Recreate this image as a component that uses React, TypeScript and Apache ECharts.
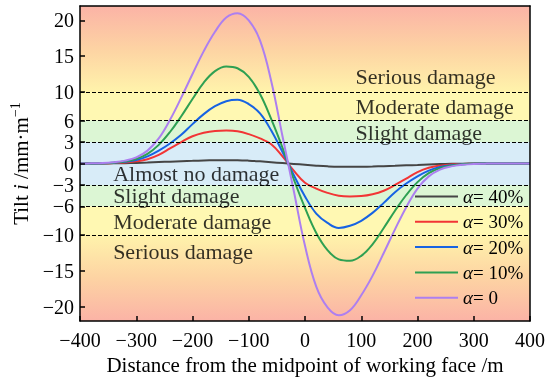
import React, { useEffect, useRef } from 'react';
import * as echarts from 'echarts';

// distance from the midpoint of the working face (m)
const xs = [-400, -380, -360, -340, -320, -300, -280, -260, -240, -220, -200, -180, -160, -140, -120, -100, -80, -60, -40, -20,
  0, 20, 40, 60, 80, 100, 120, 140, 160, 180, 200, 220, 240, 260, 280, 300, 320, 340, 360, 380, 400];

// tilt (mm/m) for each alpha
const tilt40 = [0, 0, 0.01, 0.02, 0.04, 0.08, 0.13, 0.2, 0.26, 0.32, 0.37, 0.42, 0.45, 0.47, 0.46, 0.4, 0.3, 0.18, 0.06,
  -0.06, -0.18, -0.3, -0.4, -0.46, -0.47, -0.45, -0.42, -0.37, -0.32, -0.26, -0.2, -0.13, -0.08, -0.04, -0.02, -0.01, 0, 0, 0, 0, 0];
const tilt30 = [0, 0.01, 0.02, 0.06, 0.15, 0.3, 0.6, 1.2, 2.1, 3.0, 3.8, 4.3, 4.55, 4.6, 4.5, 4.1, 3.5, 2.7, 1.0,
  -1.0, -2.7, -3.5, -4.1, -4.5, -4.6, -4.55, -4.3, -3.8, -3.0, -2.1, -1.2, -0.6, -0.3, -0.15, -0.06, -0.02, -0.01, 0, 0, 0, 0];
const tilt20 = [0, 0.01, 0.03, 0.1, 0.25, 0.5, 1.0, 1.8, 2.8, 4.0, 5.5, 6.9, 8.0, 8.7, 8.9, 8.3, 7.0, 4.6, 1.6,
  -1.6, -4.6, -7.0, -8.3, -9.0, -8.7, -8.0, -6.9, -5.5, -4.0, -2.8, -1.8, -1.0, -0.5, -0.25, -0.1, -0.03, -0.01, 0, 0, 0, 0];
const tilt10 = [0, 0.01, 0.04, 0.12, 0.3, 0.65, 1.35, 2.6, 4.4, 6.6, 9.0, 11.3, 12.9, 13.55, 13.3, 12.1, 9.7, 6.2, 2.2,
  -2.2, -6.2, -9.7, -12.1, -13.4, -13.6, -12.9, -11.3, -9.0, -6.6, -4.4, -2.6, -1.35, -0.65, -0.3, -0.12, -0.04, -0.01, 0, 0, 0, 0];
const tilt0 = [0, 0.02, 0.06, 0.18, 0.4, 0.85, 1.8, 3.5, 6.1, 9.2, 12.5, 15.7, 18.4, 20.4, 21.0, 20.0, 17.2, 11.5, 3.8,
  -3.8, -11.5, -17.2, -20.1, -21.2, -20.5, -18.4, -15.7, -12.5, -9.2, -6.1, -3.5, -1.8, -0.85, -0.4, -0.18, -0.06, -0.02, 0, 0, 0, 0];

const seriesNames = ['40%', '30%', '20%', '10%', '0'];
const seriesValues = [tilt40, tilt30, tilt20, tilt10, tilt0];
const seriesColors = ['#454545', '#f23535', '#1763e3', '#2ea052', '#ad7ff0'];

const yTickValues = [-20, -15, -10, -6, -3, 0, 3, 6, 10, 15, 20];
const dangerLevels = [10, 6, 3, -3, -6, -10];

const annotations = [
  { name: 'Serious damage', x: 89, y: 12.2 },
  { name: 'Moderate damage', x: 89, y: 7.9 },
  { name: 'Slight damage', x: 89, y: 4.3 },
  { name: 'Almost no damage', x: -342, y: -1.4 },
  { name: 'Slight damage', x: -342, y: -4.4 },
  { name: 'Moderate damage', x: -342, y: -8.1 },
  { name: 'Serious damage', x: -342, y: -12.3 },
];

const FONT = 'Liberation Serif';
const minus = (v: number) => String(v).replace('-', '\u2212');

export default function App() {
  const ref = useRef<HTMLDivElement>(null);
  useEffect(() => {
    if (!ref.current) return;
    const chart = echarts.init(ref.current, undefined, { renderer: 'svg' });
    const LG = echarts.graphic.LinearGradient;
    const yellow = '#fff8b2';
    const green = '#dcf6d4';
    const blue = '#d8ecf8';
    const bands = [
      { from: 10, to: 22, color: new LG(0, 0, 0, 1, [{ offset: 0, color: '#fbb3a6' }, { offset: 0.5, color: '#fdd3a3' }, { offset: 1, color: '#fff3ab' }]) },
      { from: 6, to: 10, color: yellow },
      { from: 3, to: 6, color: green },
      { from: -3, to: 3, color: blue },
      { from: -6, to: -3, color: green },
      { from: -10, to: -6, color: yellow },
      { from: -22, to: -10, color: new LG(0, 0, 0, 1, [{ offset: 0, color: '#fff3ab' }, { offset: 0.5, color: '#fdd3a3' }, { offset: 1, color: '#fbb3a6' }]) },
    ];
    const axisLineStyle = { color: '#000', width: 1.5 };
    const option: any = {
      animation: false,
      grid: { left: 77, right: 20, top: 6, bottom: 61 },
      legend: {
        data: seriesNames,
        orient: 'vertical',
        left: 415,
        top: 187,
        padding: 0,
        icon: 'rect',
        itemWidth: 43,
        itemHeight: 2,
        itemGap: 6.3,
        formatter: (name: string) => `{a|\u03b1}{b|= ${name}}`,
        textStyle: {
          fontFamily: FONT,
          fontSize: 19,
          color: '#000',
          rich: {
            a: { fontFamily: FONT, fontSize: 19, fontStyle: 'italic', color: '#000', lineHeight: 20 },
            b: { fontFamily: FONT, fontSize: 19, color: '#000', lineHeight: 20 },
          },
        },
      },
      xAxis: [
        {
          type: 'value', min: -400, max: 400, interval: 100, position: 'bottom', z: 10,
          axisLine: { onZero: false, lineStyle: axisLineStyle },
          axisTick: { inside: true, length: 5, lineStyle: axisLineStyle },
          axisLabel: { formatter: minus, fontFamily: FONT, fontSize: 20, color: '#000', margin: 9 },
          splitLine: { show: false },
          name: 'Distance from the midpoint of working face /m',
          nameLocation: 'middle', nameGap: 33,
          nameTextStyle: { fontFamily: FONT, fontSize: 21, color: '#000' },
        },
        {
          type: 'value', min: -400, max: 400, interval: 100, position: 'top', z: 10,
          axisLine: { onZero: false, lineStyle: axisLineStyle },
          axisTick: { show: false }, axisLabel: { show: false }, splitLine: { show: false },
        },
      ],
      yAxis: [
        {
          type: 'value', min: -22, max: 22, position: 'left', z: 10,
          axisLine: { onZero: false, lineStyle: axisLineStyle },
          axisTick: { inside: true, length: 5, lineStyle: axisLineStyle, customValues: yTickValues },
          axisLabel: { customValues: yTickValues, formatter: minus, fontFamily: FONT, fontSize: 20, color: '#000', margin: 6 },
          splitLine: { show: false },
          name: '{n|Tilt }{i|i}{n| /mm\u00b7m}{s|\u22121}',
          nameLocation: 'middle', nameGap: 46, nameRotate: 90,
          nameTextStyle: {
            fontFamily: FONT, fontSize: 21, color: '#000',
            rich: {
              n: { fontFamily: FONT, fontSize: 21, color: '#000', lineHeight: 26 },
              i: { fontFamily: FONT, fontSize: 21, color: '#000', fontStyle: 'italic', lineHeight: 26 },
              s: { fontFamily: FONT, fontSize: 14, color: '#000', verticalAlign: 'top', lineHeight: 26 },
            },
          },
        },
        {
          type: 'value', min: -22, max: 22, position: 'right', z: 10,
          axisLine: { onZero: false, lineStyle: axisLineStyle },
          axisTick: { show: false }, axisLabel: { show: false }, splitLine: { show: false },
        },
      ],
      series: [
        {
          name: 'background', type: 'line', data: [], z: 1, silent: true,
          markArea: {
            silent: true,
            label: { show: false },
            data: bands.map((b) => [{ yAxis: b.from, itemStyle: { color: b.color } }, { yAxis: b.to }]),
          },
          markLine: {
            silent: true,
            symbol: ['none', 'none'],
            label: { show: false },
            lineStyle: { color: '#000', width: 1, type: [4, 2] },
            data: dangerLevels.map((v) => ({ yAxis: v })),
          },
        },
        ...seriesNames.map((name, k) => ({
          name,
          type: 'line',
          smooth: 0.4,
          symbol: 'none',
          z: 3,
          lineStyle: { color: seriesColors[k], width: 2 },
          itemStyle: { color: seriesColors[k] },
          data: xs.map((x, i) => [x, seriesValues[k][i]]),
        })),
        {
          name: 'annotations', type: 'scatter', z: 4, silent: true,
          symbolSize: 1,
          itemStyle: { color: 'transparent' },
          label: {
            show: true, position: 'right', distance: 0, formatter: '{b}',
            fontFamily: FONT, fontSize: 22, color: '#000',
          },
          data: annotations.map((a) => ({ name: a.name, value: [a.x, a.y] })),
        },
      ],
    };
    chart.setOption(option);
    return () => chart.dispose();
  }, []);
  return <div ref={ref} style={{ position: 'fixed', left: 0, top: 0, width: 550, height: 382 }} />;
}
